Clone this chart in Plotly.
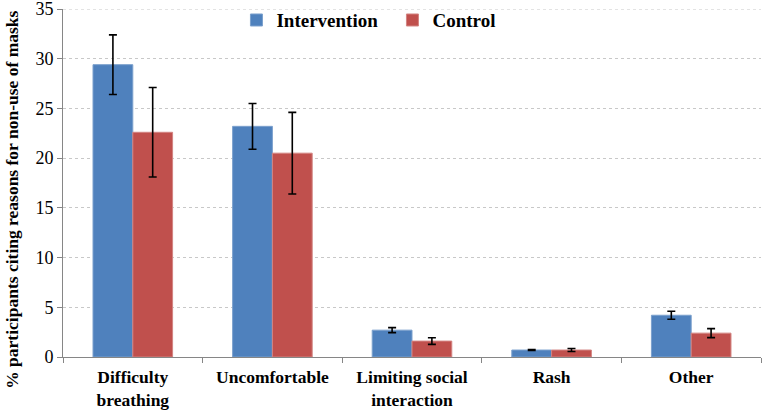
import plotly.graph_objects as go

categories = ["Difficulty<br>breathing", "Uncomfortable", "Limiting social<br>interaction", "Rash", "Other"]
intervention = [29.4, 23.2, 2.7, 0.7, 4.2]
intervention_err = [3.0, 2.3, 0.25, 0.05, 0.4]
control = [22.6, 20.5, 1.6, 0.7, 2.4]
control_err = [4.5, 4.1, 0.33, 0.15, 0.45]
y_title = "% participants citing reasons for non-use of masks"

SERIF = "Liberation Serif, Times New Roman, serif"

fig = go.Figure()
fig.add_trace(go.Bar(
    name="Intervention", x=categories, y=intervention,
    marker=dict(color="#4F81BD", line=dict(color="#7BA0CD", width=1)),
    error_y=dict(type="data", array=intervention_err, color="black", thickness=1.6, width=4),
))
fig.add_trace(go.Bar(
    name="Control", x=categories, y=control,
    marker=dict(color="#C0504D", line=dict(color="#D38482", width=1)),
    error_y=dict(type="data", array=control_err, color="black", thickness=1.6, width=4),
))

fig.add_hline(y=35, line=dict(color="#c8c8c8", width=1, dash="dot"), layer="below")

fig.add_annotation(text=y_title, xref="paper", yref="paper", x=-0.073, y=0.452,
                   textangle=-90, showarrow=False, xanchor="center", yanchor="middle",
                   font=dict(size=17.5, family=SERIF, weight="bold", color="black"))

fig.update_layout(
    width=764, height=412,
    margin=dict(l=63, r=3, t=9, b=55, autoexpand=False),
    paper_bgcolor="white", plot_bgcolor="white",
    barmode="group", bargap=0.43, bargroupgap=0,
    font=dict(family=SERIF, color="black"),
    legend=dict(orientation="h", x=0.2485, y=0.968, xanchor="left", yanchor="middle",
                font=dict(size=19, family=SERIF, weight="bold"),
                bgcolor="rgba(0,0,0,0)", itemwidth=30, entrywidth=111),
    xaxis=dict(showline=True, linecolor="#868686", linewidth=1,
               ticks="outside", tickson="boundaries", ticklen=5, tickcolor="#868686",
               ticklabelstandoff=4, automargin=False,
               tickfont=dict(size=17.5, family=SERIF, weight="bold")),
    yaxis=dict(range=[0, 35], dtick=5, showline=True, linecolor="#868686", linewidth=1,
               ticks="outside", ticklen=5, tickcolor="#868686",
               ticklabeloverflow="allow", automargin=False,
               tickfont=dict(size=18, family=SERIF),
               showgrid=True, gridcolor="#c8c8c8", griddash="dot", gridwidth=1,
               zeroline=False),
)

fig.write_html("out.html", config={"displayModeBar": False},
               post_script="document.body.style.margin='0';document.body.style.padding='0';")
